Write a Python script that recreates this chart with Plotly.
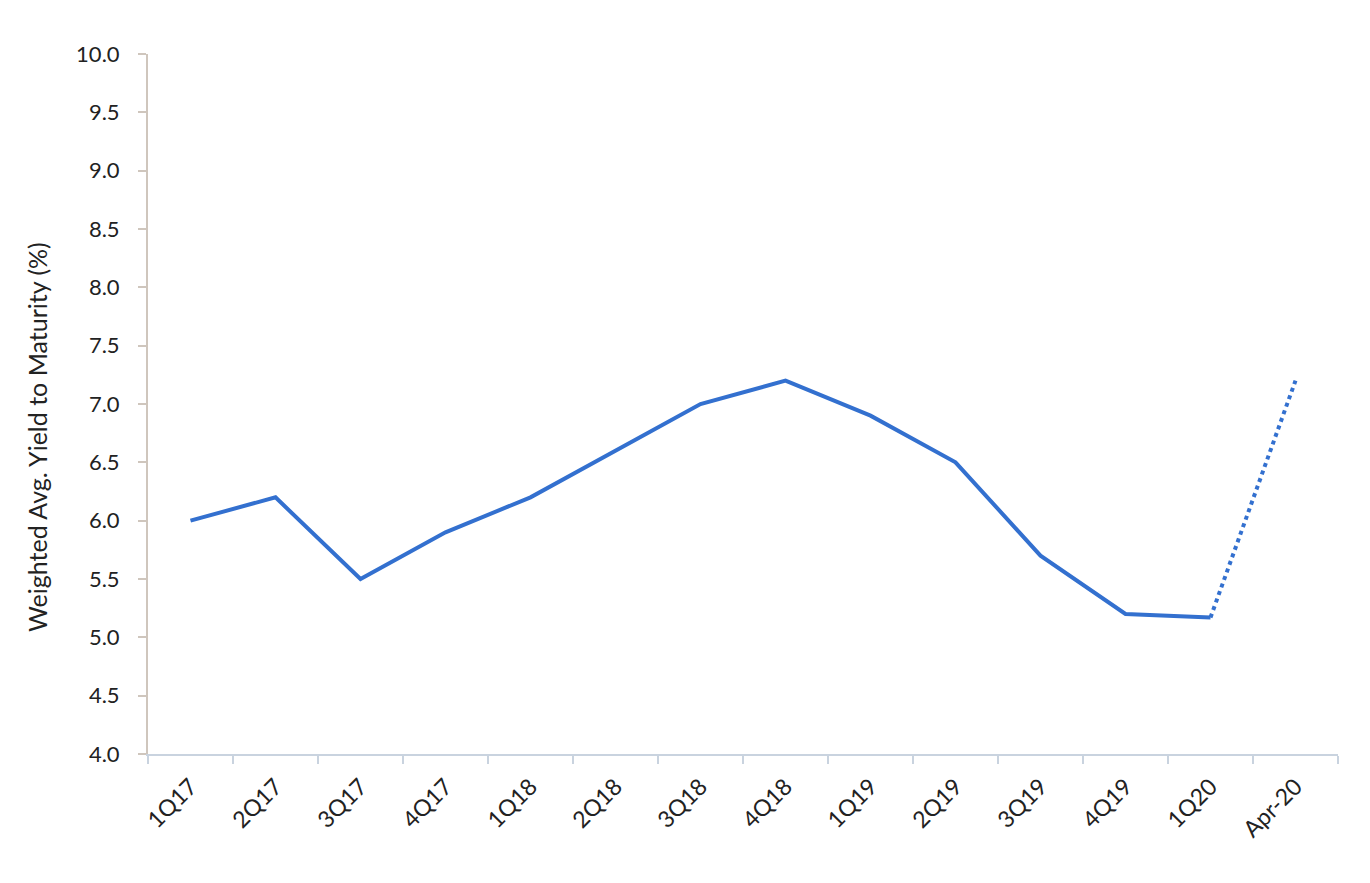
import plotly.graph_objects as go

quarters = ["1Q17", "2Q17", "3Q17", "4Q17", "1Q18", "2Q18", "3Q18", "4Q18",
            "1Q19", "2Q19", "3Q19", "4Q19", "1Q20", "Apr-20"]
ytm = [6.0, 6.2, 5.5, 5.9, 6.2, 6.6, 7.0, 7.2, 6.9, 6.5, 5.7, 5.2, 5.17, 7.2]

blue = "#3370CF"
font = "Lato, 'Noto Sans', sans-serif"

fig = go.Figure()
# actual quarterly values
fig.add_trace(go.Scatter(x=quarters[:13], y=ytm[:13], mode="lines",
                         line=dict(color=blue, width=4), showlegend=False))
# latest month estimate, dotted
fig.add_trace(go.Scatter(x=quarters[12:], y=ytm[12:], mode="lines",
                         line=dict(color=blue, width=4, dash="dot"), showlegend=False))

# axis title sits a bit below the plot centre in the original, so use an annotation
fig.add_annotation(text="Weighted Avg. Yield to Maturity (%)", textangle=-90,
                   xref="paper", yref="paper", x=0, y=0.453, xanchor="center",
                   yanchor="middle", xshift=-111, showarrow=False,
                   font=dict(size=25, color="#222222"))

fig.update_layout(
    width=1370, height=883,
    margin=dict(l=140, r=40, t=46, b=137),
    paper_bgcolor="white", plot_bgcolor="white",
    font=dict(family=font, size=22, color="#222222"),
    xaxis=dict(type="category", categoryorder="array", categoryarray=quarters,
               range=[-0.5, 13.5], tickson="boundaries", ticks="outside",
               ticklen=8, tickcolor="#C9D3DF", tickwidth=2,
               showline=True, linecolor="#C9D3DF", linewidth=2,
               showgrid=False, tickangle=-45, tickfont=dict(size=23),
               ticklabelstandoff=8),
    yaxis=dict(range=[4, 10], dtick=0.5, tickformat=".1f", ticks="outside",
               ticklen=8, tickcolor="#CFC6BD", tickwidth=2,
               showline=True, linecolor="#CFC6BD", linewidth=2,
               showgrid=False, zeroline=False, tickfont=dict(size=22),
               ticklabelstandoff=14),
)

fig.write_html("out.html")
